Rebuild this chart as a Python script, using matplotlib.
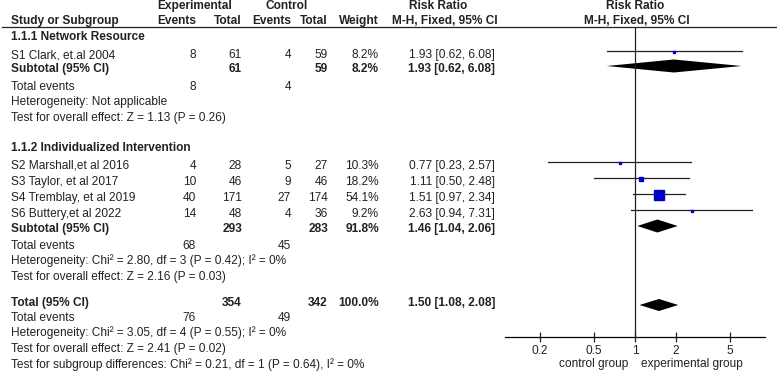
import numpy as np
import matplotlib; matplotlib.use('Agg')
import matplotlib.pyplot as plt

plt.rcParams['font.family'] = ['Liberation Sans', 'DejaVu Sans']

# study-level data
studies   = ['S1 Clark, et.al 2004', 'S2 Marshall,et al 2016', 'S3 Taylor, et al 2017',
             'S4 Tremblay, et al 2019', 'S6 Buttery,et al 2022']
exp_ev    = [8, 4, 10, 40, 14]
exp_n     = [61, 28, 46, 171, 48]
ctl_ev    = [4, 5, 9, 27, 4]
ctl_n     = [59, 27, 46, 174, 36]
weight    = [8.2, 10.3, 18.2, 54.1, 9.2]
rr        = [1.93, 0.77, 1.11, 1.51, 2.63]
rr_lo     = [0.62, 0.23, 0.50, 0.97, 0.94]
rr_hi     = [6.08, 2.57, 2.48, 2.34, 7.31]

# subgroup / overall data
sub_names = ['1.1.1 Network Resource', '1.1.2 Individualized Intervention']
sub_exp_n = [61, 293]; sub_ctl_n = [59, 283]; sub_w = [8.2, 91.8]
sub_exp_ev = [8, 68]; sub_ctl_ev = [4, 45]
sub_rr = [1.93, 1.46]; sub_lo = [0.62, 1.04]; sub_hi = [6.08, 2.06]
sub_het = ['Heterogeneity: Not applicable',
           'Heterogeneity: Chi\u00b2 = 2.80, df = 3 (P = 0.42); I\u00b2 = 0%']
sub_z = ['Test for overall effect: Z = 1.13 (P = 0.26)',
         'Test for overall effect: Z = 2.16 (P = 0.03)']
tot_exp_n, tot_ctl_n, tot_w = 354, 342, 100.0
tot_exp_ev, tot_ctl_ev = 76, 49
tot_rr, tot_lo, tot_hi = 1.50, 1.08, 2.08
tot_lines = ['Heterogeneity: Chi\u00b2 = 3.05, df = 4 (P = 0.55); I\u00b2 = 0%',
             'Test for overall effect: Z = 2.41 (P = 0.02)',
             'Test for subgroup differences: Chi\u00b2 = 0.21, df = 1 (P = 0.64), I\u00b2 = 0%']
ticks = [0.2, 0.5, 1, 2, 5]

W, H = 777, 378
fig = plt.figure(figsize=(W/100, H/100), dpi=100)
ax = fig.add_axes([0, 0, 1, 1]); ax.set_xlim(0, W); ax.set_ylim(H, 0); ax.axis('off')
AX_TOP, AX_BOT = 27, 337
fx = fig.add_axes([505/W, (H-AX_BOT)/H, 260/W, (AX_BOT-AX_TOP)/H])
fx.set_xscale('log'); fx.set_xlim(10**-0.956, 10**0.956); fx.set_ylim(AX_BOT, AX_TOP)
fx.patch.set_visible(False)
for s in ['top', 'left', 'right']: fx.spines[s].set_visible(False)
fx.spines['bottom'].set_linewidth(0.9)
fx.set_yticks([]); fx.minorticks_off()
fx.set_xticks(ticks); fx.set_xticklabels([f'{t:g}' for t in ticks])
fx.tick_params(axis='x', direction='inout', length=7, width=0.9, labelsize=8.6, pad=2, colors='#222222')
fx.axvline(1, color='#222222', lw=0.9)

FS = 8.6; TC = '#222222'; LX = 11
C_EV, C_EN, C_CV, C_CN, C_W, C_RR = 196, 242, 291, 328, 379, 495

def txt(x, y, s, ha='left', bold=False):
    ax.text(x, y, s, ha=ha, va='center', fontsize=FS, color=TC, fontweight='bold' if bold else 'normal')

# headers
txt(195, 6, 'Experimental', 'center', True); txt(287, 6, 'Control', 'center', True)
txt(LX, 21, 'Study or Subgroup', bold=True)
txt(C_EV, 21, 'Events', 'right', True); txt(C_EN, 21, 'Total', 'right', True)
txt(C_CV, 21, 'Events', 'right', True); txt(C_CN, 21, 'Total', 'right', True)
txt(C_W, 21, 'Weight', 'right', True)
txt(438, 6, 'Risk Ratio', 'center', True); txt(445, 21, 'M-H, Fixed, 95% CI', 'center', True)
txt(635, 6, 'Risk Ratio', 'center', True); txt(637, 21, 'M-H, Fixed, 95% CI', 'center', True)
ax.axhline(AX_TOP, xmin=2/W, xmax=1, color=TC, lw=0.9)

study_y = [[55], [166, 182, 198, 214]]
head_y = [37, 148]; subt_y = [69, 229]; tev_y = [87, 246]; het_y = [102, 261]; z_y = [118, 277]
OFF = 3

def ci(v, lo, hi): return f'{v:.2f} [{lo:.2f}, {hi:.2f}]'

def diamond(y, c, lo, hi, h=6.5):
    fx.fill([lo, c, hi, c], [y, y - h, y, y + h], color='black', lw=0)

k = 0
for g in range(2):
    txt(LX, head_y[g], sub_names[g], bold=True)
    for y in study_y[g]:
        txt(LX, y, studies[k])
        txt(C_EV, y, str(exp_ev[k]), 'right'); txt(C_EN, y, str(exp_n[k]), 'right')
        txt(C_CV, y, str(ctl_ev[k]), 'right'); txt(C_CN, y, str(ctl_n[k]), 'right')
        txt(C_W, y, f'{weight[k]:.1f}%', 'right'); txt(C_RR, y, ci(rr[k], rr_lo[k], rr_hi[k]), 'right')
        fx.plot([rr_lo[k], rr_hi[k]], [y - OFF - 1, y - OFF - 1], color=TC, lw=0.9)
        side = max(3.0, 10 * weight[k] / max(weight))
        fx.plot(rr[k], y - OFF, marker='s', ms=side / 1.39, color='#0000c8', mec='#0000c8', lw=0)
        k += 1
    y = subt_y[g]
    txt(LX, y, 'Subtotal (95% CI)', bold=True)
    txt(C_EN, y, str(sub_exp_n[g]), 'right', True); txt(C_CN, y, str(sub_ctl_n[g]), 'right', True)
    txt(C_W, y, f'{sub_w[g]:.1f}%', 'right', True); txt(C_RR, y, ci(sub_rr[g], sub_lo[g], sub_hi[g]), 'right', True)
    diamond(y - OFF, sub_rr[g], sub_lo[g], sub_hi[g])
    txt(LX, tev_y[g], 'Total events'); txt(C_EV, tev_y[g], str(sub_exp_ev[g]), 'right'); txt(C_CV, tev_y[g], str(sub_ctl_ev[g]), 'right')
    txt(LX, het_y[g], sub_het[g]); txt(LX, z_y[g], sub_z[g])

y = 303
txt(LX, y, 'Total (95% CI)', bold=True)
txt(C_EN, y, str(tot_exp_n), 'right', True); txt(C_CN, y, str(tot_ctl_n), 'right', True)
txt(C_W, y, f'{tot_w:.1f}%', 'right', True); txt(C_RR, y, ci(tot_rr, tot_lo, tot_hi), 'right', True)
diamond(y + 2, tot_rr, tot_lo, tot_hi, 6)
txt(LX, 318, 'Total events'); txt(C_EV, 318, str(tot_exp_ev), 'right'); txt(C_CV, 318, str(tot_ctl_ev), 'right')
for yy, s in zip([333, 349, 365], tot_lines): txt(LX, yy, s)

txt(628, 364, 'control group', 'right'); txt(641, 364, 'experimental group')

fig.savefig('out.png', dpi=100)
